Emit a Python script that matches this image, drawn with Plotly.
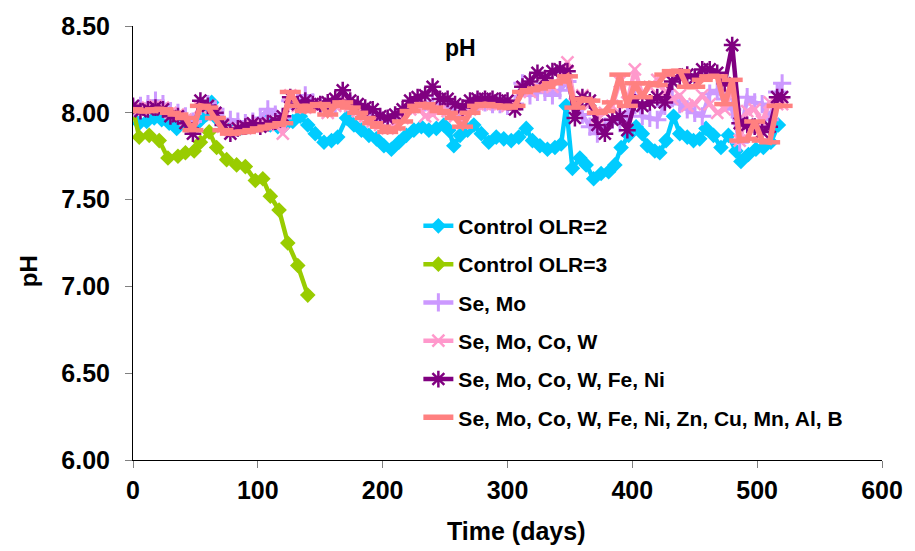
import plotly.graph_objects as go

# ---------------- data ----------------
series_names = ["Control OLR=2", "Control OLR=3", "Se, Mo", "Se, Mo, Co, W",
                "Se, Mo, Co, W, Fe, Ni", "Se, Mo, Co, W, Fe, Ni, Zn, Cu, Mn, Al, B"]

days_c2 = [0, 5, 11, 17, 23, 29, 35, 41, 47, 53,
           59, 63, 68, 74, 80, 86, 92, 98, 104, 110,
           116, 122, 128, 134, 140, 146, 153, 159, 164, 171,
           177, 183, 189, 195, 201, 207, 213, 219, 225, 231,
           237, 243, 249, 253, 257, 262, 268, 273, 279, 285,
           291, 297, 303, 309, 315, 320, 326, 332, 338, 343,
           347, 352, 358, 363, 369, 375, 381, 386, 391, 397,
           403, 408, 412, 418, 422, 427, 433, 438, 444, 449,
           454, 459, 465, 471, 477, 483, 487, 493, 499, 505,
           511, 517]
ph_c2 = [8.02, 7.94, 7.95, 7.97, 7.96, 7.94, 7.91, 7.95, 7.93, 7.95,
         7.99, 8.06, 7.96, 7.92, 7.90, 7.91, 7.92, 7.93, 7.96, 7.93,
         7.92, 7.93, 7.95, 7.98, 7.93, 7.88, 7.83, 7.84, 7.86, 7.97,
         7.93, 7.90, 7.87, 7.85, 7.81, 7.79, 7.83, 7.87, 7.90, 7.92,
         7.90, 7.91, 7.93, 7.90, 7.81, 7.87, 7.90, 7.93, 7.88, 7.83,
         7.86, 7.85, 7.84, 7.86, 7.91, 7.84, 7.81, 7.79, 7.80, 7.82,
         8.04, 7.68, 7.74, 7.70, 7.62, 7.65, 7.66, 7.70, 7.80, 7.87,
         7.92, 7.88, 7.81, 7.78, 7.77, 7.84, 7.98, 7.88, 7.86, 7.84,
         7.85, 7.91, 7.87, 7.80, 7.87, 7.78, 7.72, 7.76, 7.79, 7.80,
         7.83, 7.93]

days_c3 = [0, 5, 13, 21, 28, 36, 42, 49, 54, 61, 67, 75, 83, 90, 98, 104, 110, 117, 124, 132, 140]
ph_c3 = [8.02, 7.86, 7.87, 7.84, 7.74, 7.75, 7.77, 7.78, 7.83, 7.89, 7.80,
         7.73, 7.70, 7.69, 7.61, 7.62, 7.52, 7.44, 7.25, 7.12, 6.95]

days_t = [0, 6, 12, 18, 24, 30, 36, 42, 48, 54,
          60, 66, 72, 78, 84, 90, 96, 102, 108, 114,
          120, 126, 132, 138, 144, 150, 156, 162, 168, 174,
          180, 186, 192, 198, 204, 210, 216, 222, 228, 234,
          240, 246, 252, 258, 264, 270, 276, 282, 288, 294,
          300, 306, 312, 318, 324, 330, 336, 342, 348, 354,
          360, 366, 372, 378, 384, 390, 396, 402, 408, 414,
          420, 426, 432, 438, 444, 450, 456, 462, 468, 474,
          480, 486, 492, 498, 504, 510, 516, 520]

ph_semo = [8.03, 8.04, 8.05, 8.07, 8.05, 8.01, 8.00, 7.98, 7.95, 8.04,
           8.05, 8.02, 7.96, 7.96, 7.95, 7.94, 7.95, 7.97, 8.02, 7.99,
           7.97, 8.07, 8.06, 8.10, 8.06, 8.04, 8.03, 8.05, 8.08, 8.05,
           8.03, 8.00, 7.98, 7.96, 7.95, 7.97, 8.00, 8.04, 8.05, 8.06,
           8.05, 8.04, 8.04, 8.01, 7.98, 8.04, 8.06, 8.06, 8.05, 8.05,
           8.04, 8.05, 8.17, 8.10, 8.12, 8.12, 8.10, 8.13, 8.18, 8.03,
           7.99, 7.92, 7.88, 7.92, 7.96, 7.94, 8.00, 8.10, 7.98, 7.97,
           7.96, 8.04, 8.09, 8.05, 8.02, 8.00, 7.98, 8.11, 8.13, 8.08,
           8.02, 7.83, 8.09, 8.06, 8.05, 7.96, 8.12, 8.17]

ph_semocow = [8.02, 8.02, 8.03, 8.04, 8.03, 8.00, 7.99, 7.96, 7.91, 8.03,
              8.04, 7.99, 7.92, 7.90, 7.91, 7.91, 7.92, 7.93, 7.93, 7.95,
              7.88, 8.10, 8.04, 8.03, 8.05, 8.04, 8.00, 8.04, 8.07, 8.04,
              8.01, 7.98, 7.95, 7.93, 7.91, 7.93, 7.97, 8.02, 8.04, 7.98,
              7.99, 8.02, 8.01, 7.98, 7.94, 8.02, 8.05, 8.05, 8.05, 8.05,
              8.04, 8.05, 8.14, 8.12, 8.15, 8.16, 8.15, 8.20, 8.29, 8.05,
              8.10, 8.05, 7.98, 8.00, 8.04, 8.18, 8.06, 8.25, 8.10, 8.15,
              8.19, 8.12, 8.08, 8.10, 8.04, 8.05, 8.10, 8.05, 8.00, 8.02,
              8.15, 7.84, 8.01, 8.02, 7.95, 8.06, 8.05, 8.05]

ph_semocowfeni = [8.04, 8.01, 8.02, 8.03, 8.02, 7.98, 7.98, 7.94, 7.88, 8.07,
                  8.04, 8.00, 7.93, 7.88, 7.91, 7.92, 7.94, 7.92, 7.94, 7.95,
                  7.98, 8.09, 8.05, 8.07, 8.05, 8.05, 8.06, 8.08, 8.13, 8.07,
                  8.05, 8.03, 8.02, 7.98, 7.97, 7.99, 8.02, 8.07, 8.09, 8.10,
                  8.15, 8.08, 8.08, 8.05, 8.03, 8.07, 8.08, 8.08, 8.08, 8.07,
                  8.07, 8.02, 8.15, 8.18, 8.23, 8.20, 8.24, 8.25, 8.24, 7.97,
                  8.09, 8.07, 7.93, 7.88, 7.96, 7.98, 7.90, 8.06, 8.04, 8.06,
                  8.09, 8.06, 8.18, 8.21, 8.22, 8.20, 8.25, 8.25, 8.23, 8.17,
                  8.39, 7.94, 7.93, 7.92, 7.89, 7.92, 8.09, 8.09]

ph_all = [8.02, 8.01, 8.01, 8.02, 8.02, 8.00, 7.99, 7.97, 7.90, 8.04,
          8.03, 7.97, 7.90, 7.88, 7.89, 7.89, 7.90, 7.91, 7.92, 7.93,
          7.94, 8.12, 8.04, 8.01, 8.04, 8.05, 7.99, 8.04, 8.06, 8.03,
          8.00, 7.97, 7.94, 7.92, 7.89, 7.91, 7.95, 8.01, 8.04, 8.05,
          8.03, 8.01, 8.00, 7.97, 7.92, 8.00, 8.04, 8.05, 8.04, 8.04,
          8.03, 8.04, 8.12, 8.13, 8.14, 8.15, 8.17, 8.18, 8.21, 8.03,
          8.08, 8.07, 8.00, 8.01, 8.06, 8.22, 8.04, 8.17, 8.09, 8.17,
          8.16, 8.22, 8.24, 8.24, 8.15, 8.15, 8.19, 8.21, 8.21, 8.05,
          8.19, 7.84, 7.85, 7.95, 7.84, 7.83, 8.04, 8.04]

x_ticks = [0, 100, 200, 300, 400, 500, 600]
y_ticks = [6.0, 6.5, 7.0, 7.5, 8.0, 8.5]

# ---------------- styles ----------------
FONT = "Liberation Sans, Arial, sans-serif"
colors = ["#00CCFF", "#99CC00", "#CC99FF", "#FF99CC", "#800080", "#FF8080"]
symbols = ["diamond", "diamond", "cross-thin-open", "x-thin-open", "asterisk-open", "line-ew-open"]
msizes = [12, 12, 13, 12, 14, 15]
mlw = [0, 0, 3, 2.5, 2.5, 4.5]
lws = [4.5, 4.5, 4.5, 4.5, 4.5, 5.5]

xs = [days_c2, days_c3, days_t, days_t, days_t, days_t]
ys = [ph_c2, ph_c3, ph_semo, ph_semocow, ph_semocowfeni, ph_all]

fig = go.Figure()
for i in range(6):
    marker = dict(symbol=symbols[i], size=msizes[i], color=colors[i])
    if mlw[i] > 0:
        marker["line"] = dict(width=mlw[i], color=colors[i])
    fig.add_trace(go.Scatter(
        x=xs[i], y=ys[i], mode="lines+markers", name=series_names[i],
        legendgroup=f"g{i}",
        line=dict(color=colors[i], width=lws[i]),
        marker=marker,
    ))

fig.update_layout(
    width=915, height=551,
    margin=dict(l=133, r=21, t=18, b=91),
    paper_bgcolor="white", plot_bgcolor="white",
    font=dict(family=FONT, color="black", size=20, weight="bold"),
    showlegend=True,
    legend=dict(x=0.381, y=0.586, xanchor="left", yanchor="top",
                bgcolor="rgba(0,0,0,0)", font=dict(size=21, family=FONT, weight="bold"),
                tracegroupgap=8, itemwidth=30),
    xaxis=dict(range=[0, 600], tickvals=x_ticks, ticktext=[str(v) for v in x_ticks],
               showgrid=False, zeroline=False, showline=True, linecolor="black", linewidth=1,
               ticks="outside", ticklen=7, tickcolor="#808080", tickwidth=1,
               tickfont=dict(size=25, family=FONT, weight="bold"), ticklabelstandoff=1),
    yaxis=dict(range=[6, 8.5], tickvals=y_ticks, ticktext=[f"{v:.2f}" for v in y_ticks],
               showgrid=False, zeroline=False, showline=True, linecolor="black", linewidth=1,
               ticks="outside", ticklen=7, tickcolor="#808080", tickwidth=1,
               tickfont=dict(size=25, family=FONT, weight="bold"), ticklabelstandoff=10),
    annotations=[
        dict(text="pH", x=(466 - 133) / 761, y=1 - (40 - 18) / 442, xref="paper", yref="paper",
             showarrow=False, font=dict(size=23, family=FONT, weight="bold"),
             xanchor="center", yanchor="middle"),
        dict(text="Time (days)", x=(522 - 133) / 761, y=-(532 - 460) / 442, xref="paper", yref="paper",
             showarrow=False, font=dict(size=25, family=FONT, weight="bold"),
             xanchor="center", yanchor="middle"),
        dict(text="pH", x=-(133 - 27) / 761, y=1 - (268 - 18) / 442, xref="paper", yref="paper",
             showarrow=False, textangle=-90, font=dict(size=24, family=FONT, weight="bold"),
             xanchor="center", yanchor="middle"),
    ],
)

fig.write_html("out.html")
